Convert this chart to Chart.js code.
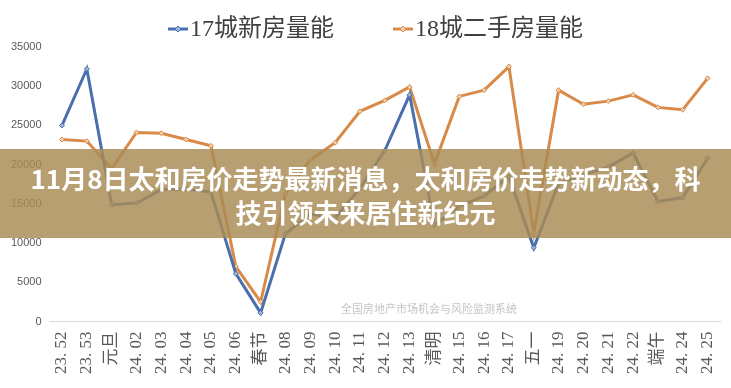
<!DOCTYPE html>
<html>
<head>
<meta charset="utf-8">
<script src="https://cdn.jsdelivr.net/npm/chart.js@4.4.1/dist/chart.umd.min.js"></script>
<style>
  html, body { margin: 0; padding: 0; background: #ffffff; }
  #wrap { position: relative; width: 731px; height: 388px; overflow: hidden; }
  #banner {
    position: absolute; left: 0; top: 149px; width: 731px; height: 89px;
    background: rgba(170, 140, 85, 0.83);
    color: #ffffff; font-family: "Noto Sans CJK SC", sans-serif; font-weight: 700;
    font-size: 26px; line-height: 34px; text-align: center;
    box-sizing: border-box; padding-top: 12px; white-space: nowrap;
  }
</style>
</head>
<body>
<div id="wrap">
  <canvas id="c" width="731" height="388"></canvas>
  <div id="banner">11月8日太和房价走势最新消息，太和房价走势新动态，科<br>技引领未来居住新纪元</div>
</div>
<script>
const categories = ['23. 52','23. 53','元旦','24. 02','24. 03','24. 04','24. 05','24. 06','春节','24. 08','24. 09','24. 10','24. 11','24. 12','24. 13','清明','24. 15','24. 16','24. 17','五一','24. 19','24. 20','24. 21','24. 22','端午','24. 24','24. 25'];
const newHouse17 = [25000, 32200, 14900, 15100, 16800, 16900, 16500, 6100, 1100, 11200, 13700, 13200, 17000, 21800, 28900, 12300, 14700, 16000, 18500, 9400, 17600, 18700, 19700, 21500, 15300, 15800, 20800];
const oldHouse18 = [23200, 23000, 19500, 24100, 24000, 23200, 22400, 7000, 2500, 16300, 20600, 22800, 26800, 28200, 29900, 20100, 28700, 29500, 32500, 11300, 29500, 27700, 28100, 28900, 27300, 27000, 31000];
const seriesNames = ['17城新房量能', '18城二手房量能'];
const yTicks = [0, 5000, 10000, 15000, 20000, 25000, 30000, 35000];
const watermark = '全国房地产市场机会与风险监测系统';

const BLUE = '#4a6fad';
const ORANGE = '#d98a48';

const legendPlugin = {
  id: 'customLegend',
  afterDraw(chart) {
    const ctx = chart.ctx;
    ctx.save();
    const items = [
      { x: 168, color: BLUE, fill: '#9fb4d8', text: seriesNames[0] },
      { x: 393, color: ORANGE, fill: '#f2cfae', text: seriesNames[1] }
    ];
    const y = 29;
    items.forEach(it => {
      ctx.strokeStyle = it.color;
      ctx.lineWidth = 3;
      ctx.beginPath();
      ctx.moveTo(it.x, y);
      ctx.lineTo(it.x + 20, y);
      ctx.stroke();
      ctx.fillStyle = it.fill;
      ctx.strokeStyle = it.color;
      ctx.lineWidth = 1;
      ctx.beginPath();
      ctx.moveTo(it.x + 10, y - 3);
      ctx.lineTo(it.x + 13, y);
      ctx.lineTo(it.x + 10, y + 3);
      ctx.lineTo(it.x + 7, y);
      ctx.closePath();
      ctx.fill();
      ctx.stroke();
      ctx.fillStyle = '#404040';
      ctx.font = '24px "Liberation Serif", "Noto Sans CJK SC", serif';
      ctx.textBaseline = 'middle';
      ctx.textAlign = 'left';
      ctx.fillText(it.text, it.x + 22, y + 1);
    });
    ctx.fillStyle = '#c4c4c4';
    ctx.font = '11px "Noto Sans CJK SC", sans-serif';
    ctx.textAlign = 'center';
    ctx.textBaseline = 'middle';
    ctx.fillText(watermark, 429, 309);
    ctx.restore();
  }
};

new Chart(document.getElementById('c'), {
  type: 'line',
  data: {
    labels: categories,
    datasets: [
      {
        label: seriesNames[0],
        data: newHouse17,
        borderColor: BLUE,
        backgroundColor: '#9fb4d8',
        borderWidth: 3,
        pointStyle: 'rectRot',
        pointRadius: 2.5,
        pointBorderWidth: 1,
        pointBorderColor: BLUE,
        tension: 0
      },
      {
        label: seriesNames[1],
        data: oldHouse18,
        borderColor: ORANGE,
        backgroundColor: '#f2cfae',
        borderWidth: 3,
        pointStyle: 'rectRot',
        pointRadius: 2.5,
        pointBorderWidth: 1,
        pointBorderColor: ORANGE,
        tension: 0
      }
    ]
  },
  options: {
    responsive: false,
    animation: false,
    layout: { padding: { top: 47, left: 3, right: 11, bottom: 4 } },
    plugins: {
      legend: { display: false },
      tooltip: { enabled: false }
    },
    scales: {
      x: {
        offset: true,
        afterFit(scale) { scale.paddingLeft = 0; scale.paddingRight = 0; },
        grid: { display: false, drawTicks: false },
        border: { display: true, color: '#d9d9d9', width: 1 },
        ticks: {
          autoSkip: false,
          minRotation: 90,
          maxRotation: 90,
          padding: 10,
          color: '#595959',
          font: { family: '"Liberation Serif", "Noto Sans CJK SC", serif', size: 17 }
        }
      },
      y: {
        min: 0,
        max: 35000,
        afterBuildTicks(scale) { scale.ticks = yTicks.map(v => ({ value: v })); },
        grid: { display: false, drawTicks: false },
        border: { display: false },
        ticks: {
          padding: 8,
          color: '#595959',
          font: { family: '"Liberation Sans", Arial, sans-serif', size: 11 },
          callback: v => String(v)
        }
      }
    }
  },
  plugins: [legendPlugin]
});
</script>
</body>
</html>
